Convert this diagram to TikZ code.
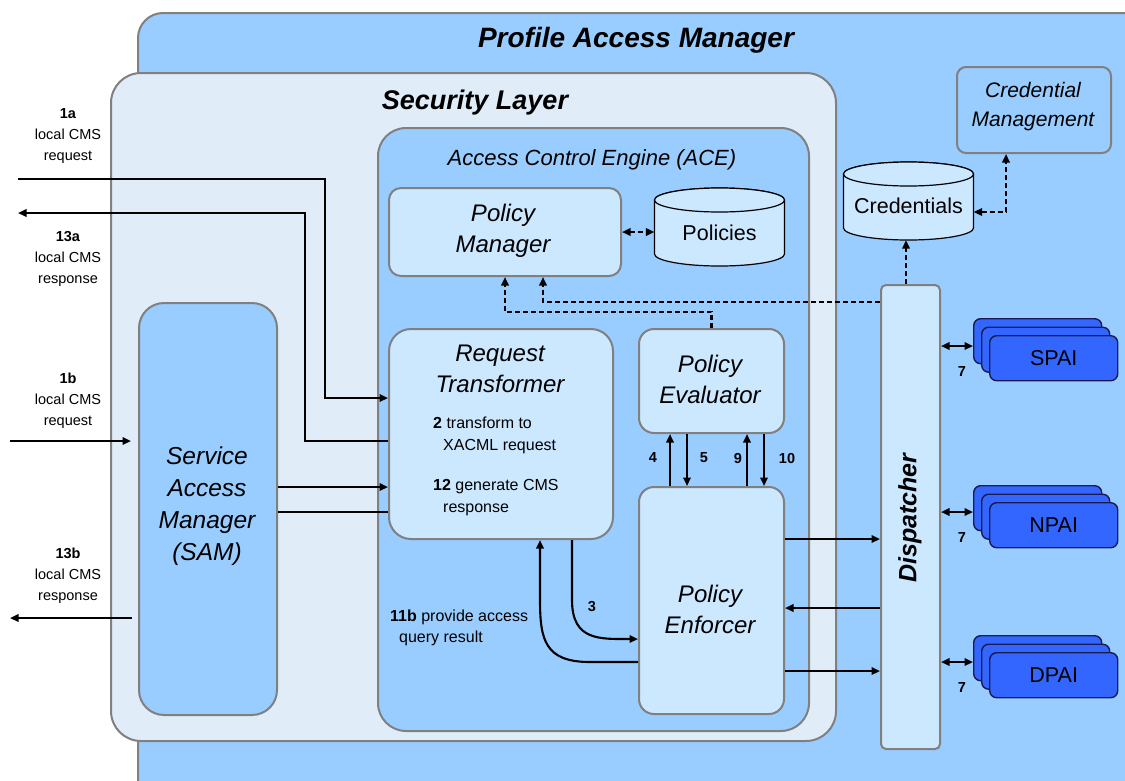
\documentclass[tikz,border=0pt]{standalone}
\usepackage{fontspec}
\setmainfont{Liberation Sans}
\usetikzlibrary{arrows.meta}
\definecolor{pamblue}{HTML}{99CCFF}
\definecolor{lightbox}{HTML}{CCE8FF}
\definecolor{slfill}{HTML}{E0EDF8}
\definecolor{bgray}{HTML}{808080}
\definecolor{paiblue}{HTML}{3366FF}
\definecolor{paiedge}{HTML}{1A1A50}
\newcommand\drawcyl[5]{%
  \filldraw[cylst] ({#1-#4},{#2+#5}) -- ({#1-#4},{#3-#5})
    arc[start angle=180,end angle=360,x radius=#4pt,y radius=#5pt]
    -- ({#1+#4},{#2+#5})
    arc[start angle=0,end angle=180,x radius=#4pt,y radius=#5pt] -- cycle;
  \draw[cylst] (#1,{#2+#5}) ellipse[x radius=#4pt,y radius=#5pt];}
\begin{document}
\begin{tikzpicture}[x=1pt,y=-1pt,
  frame/.style={draw=bgray, line width=2pt, inner sep=0pt, anchor=north west},
  cylst/.style={draw=black, line width=1.2pt, fill=lightbox},
  ghost/.style={inner sep=0pt, minimum width=#1},
  pai/.style={draw=paiedge, line width=1.4pt, fill=paiblue, rounded corners=7pt, anchor=north west, minimum width=128pt, minimum height=45pt, inner sep=0pt},
  conn/.style={line width=2.1pt, -{Triangle[length=8.5pt,width=7.5pt]}},
  dconn/.style={line width=2.1pt, dash pattern=on 5pt off 3pt, -{Triangle[length=8.5pt,width=7.5pt]}},
  dboth/.style={line width=2.1pt, dash pattern=on 5pt off 3pt, {Triangle[length=8.5pt,width=7.5pt]}-{Triangle[length=8.5pt,width=7.5pt]}},
  both/.style={line width=2.1pt, {Triangle[length=8.5pt,width=7.5pt]}-{Triangle[length=8.5pt,width=7.5pt]}},
  plain/.style={line width=2.1pt},
  bigti/.style={font=\fontsize{24}{31}\selectfont\itshape, align=center, inner sep=0pt},
  small/.style={font=\fontsize{14.5}{21}\selectfont, align=center, inner sep=0pt},
  mid/.style={font=\fontsize{16}{21}\selectfont, inner sep=0pt, anchor=west, text height=11.5pt, text depth=0pt},
  num/.style={font=\fontsize{14.5}{18}\selectfont\bfseries, inner sep=0pt}
]
\useasboundingbox (0,0) rectangle (1125,780);
\fill[white] (0,0) rectangle (1125,780);
\clip (0,0) rectangle (1125,780);

% containers
\node[frame, fill=pamblue, rounded corners=25pt, minimum width=1040pt, minimum height=800pt] (pam) at (137,12) {};
\node[font=\fontsize{28}{34}\selectfont\bfseries\itshape, inner sep=0pt] (pamt) at (636,40) {Profile Access Manager};
\node[frame, fill=slfill, rounded corners=30pt, minimum width=725pt, minimum height=668pt] (sl) at (110,72) {};
\node[font=\fontsize{27}{32}\selectfont\bfseries\itshape, inner sep=0pt] (slt) at (475,103) {Security Layer};
\node[frame, fill=pamblue, rounded corners=28pt, minimum width=431pt, minimum height=603pt] (ace) at (377,127) {};
\node[font=\fontsize{22}{26}\selectfont\itshape, inner sep=0pt] (acet) at (592,160) {Access Control Engine (ACE)};

% ACE components
\node[frame, fill=lightbox, rounded corners=12pt, minimum width=232pt, minimum height=88pt] (pm) at (388,187) {};
\node[bigti] (pmt) at (503,231) {Policy\\Manager};
\drawcyl{719.5}{188}{266}{65}{12}
\node[ghost=130pt, minimum height=78pt] (pol) at (719.5,227) {};
\node[font=\fontsize{21.5}{26}\selectfont, inner sep=0pt] (polt) at (719.5,233) {Policies};

\node[frame, fill=lightbox, rounded corners=22pt, minimum width=224pt, minimum height=210pt] (rt) at (388,328) {};
\node[bigti] (rtt) at (500,368.5) {Request\\Transformer};
\node[mid] (rt2a) at (433,423) {\textbf{2} transform to};
\node[mid] (rt2b) at (443,445) {XACML request};
\node[mid] (rt12a) at (433,485) {\textbf{12} generate CMS};
\node[mid] (rt12b) at (443,506.5) {response};

\node[frame, fill=lightbox, rounded corners=15pt, minimum width=145pt, minimum height=104pt] (pe) at (638,328) {};
\node[bigti] (pet) at (710,379.5) {Policy\\Evaluator};
\node[frame, fill=lightbox, rounded corners=15pt, minimum width=145pt, minimum height=227pt] (penf) at (638,486) {};
\node[bigti] (penft) at (710,609.5) {Policy\\Enforcer};

% SAM
\node[frame, fill=pamblue, rounded corners=25pt, minimum width=138pt, minimum height=412pt] (sam) at (138,302) {};
\node[bigti, font=\fontsize{24.5}{32}\selectfont\itshape] (samt) at (207,506) {Service\\Access\\Manager\\(SAM)};

% Dispatcher
\node[frame, fill=lightbox, rounded corners=5pt, minimum width=59pt, minimum height=464pt] (disp) at (880,284) {};
\node[rotate=90, font=\fontsize{25}{30}\selectfont\bfseries\itshape, inner sep=0pt] (dispt) at (910,518) {Dispatcher};

% Credentials
\drawcyl{908.5}{162}{240}{65}{12}
\node[ghost=130pt, minimum height=78pt] (cred) at (908.5,201) {};
\node[font=\fontsize{21.5}{26}\selectfont, inner sep=0pt] (credt) at (908.5,206) {Credentials};
\node[frame, fill=pamblue, rounded corners=9pt, minimum width=154pt, minimum height=86pt] (cm) at (956,66) {};
\node[font=\fontsize{21}{29}\selectfont\itshape, align=center, inner sep=0pt] (cmt) at (1033,107) {Credential\\Management};

% PAIs
\node[pai] (spai3) at (973,318) {};
\node[pai] (spai2) at (981,326.5) {};
\node[pai, font=\fontsize{21.5}{26}\selectfont] (spai1) at (989,335) {SPAI};
\node[pai] (npai3) at (973,485) {};
\node[pai] (npai2) at (981,493.5) {};
\node[pai, font=\fontsize{21.5}{26}\selectfont] (npai1) at (989,502) {NPAI};
\node[pai] (dpai3) at (973,635) {};
\node[pai] (dpai2) at (981,643.5) {};
\node[pai, font=\fontsize{21.5}{26}\selectfont] (dpai1) at (989,652) {DPAI};

% left labels
\node[small] (l1a) at (68,136) {\textbf{1a}\\local CMS\\request};
\node[small] (l13a) at (68,259) {\textbf{13a}\\local CMS\\response};
\node[small] (l1b) at (68,400.5) {\textbf{1b}\\local CMS\\request};
\node[small] (l13b) at (68,576) {\textbf{13b}\\local CMS\\response};

% external connectors
\coordinate (in1a) at (18,179);
\coordinate (a1) at (325,398);
\draw[conn] (in1a) -| (a1) -- (a1 -| rt.west);
\coordinate (out13a) at (18,213);
\coordinate (a2) at (305,441);
\draw[conn] (a2 -| rt.west) -- (a2) |- (out13a);
\coordinate (in1b) at (10,441);
\draw[conn, shorten >=7pt] (in1b) -- (in1b -| sam.west);
\coordinate (out13b) at (10,618);
\draw[conn, shorten <=6pt] (out13b -| sam.west) -- (out13b);
\coordinate (s1) at (0,487);
\coordinate (s2) at (0,512);
\draw[conn] (s1 -| sam.east) -- (s1 -| rt.west);
\draw[plain] (s2 -| sam.east) -- (s2 -| rt.west);

% RT <-> PEnf
\coordinate (c3) at (572,600);
\coordinate (c3e) at (0,639);
\draw[conn] (c3 |- rt.south) -- (c3) .. controls (572,641) and (600,639) .. (c3e -| penf.west);
\node[num] (n3) at (592,607) {3};
\coordinate (c11) at (590,662);
\coordinate (c11e) at (540,600);
\draw[conn] (c11 -| penf.west) -- (c11) .. controls (545,662) and (540,640) .. (c11e) -- (c11e |- rt.south);
\node[font=\fontsize{16}{21}\selectfont, align=left, inner sep=0pt, anchor=west] (l11b) at (390,627.5) {\textbf{11b} provide access\\\hspace*{9pt}query result};

% PE <-> PEnf
\coordinate (x4) at (670,0);
\coordinate (x5) at (687,0);
\coordinate (x9) at (747,0);
\coordinate (x10) at (764,0);
\draw[conn] (x4 |- penf.north) -- (x4 |- pe.south);
\draw[conn] (x5 |- pe.south) -- (x5 |- penf.north);
\draw[conn] (x9 |- penf.north) -- (x9 |- pe.south);
\draw[conn] (x10 |- pe.south) -- (x10 |- penf.north);
\node[num] (n4) at (653,458) {4};
\node[num] (n5) at (704,458) {5};
\node[num] (n9) at (738,458) {9};
\node[num] (n10) at (787,458) {10};

% PEnf <-> Dispatcher
\coordinate (y1) at (0,539);
\coordinate (y2) at (0,608);
\coordinate (y3) at (0,671);
\draw[conn] (y1 -| penf.east) -- (y1 -| disp.west);
\draw[conn] (y2 -| disp.west) -- (y2 -| penf.east);
\draw[conn] (y3 -| penf.east) -- (y3 -| disp.west);

% Dispatcher <-> PAIs
\coordinate (p1) at (0,346);
\coordinate (p2) at (0,512);
\coordinate (p3) at (0,662);
\draw[both] (p1 -| disp.east) -- (p1 -| spai3.west);
\draw[both] (p2 -| disp.east) -- (p2 -| npai3.west);
\draw[both] (p3 -| disp.east) -- (p3 -| dpai3.west);
\node[num] (n7a) at (962,372) {7};
\node[num] (n7b) at (962,538) {7};
\node[num] (n7c) at (962,688) {7};

% dashed connectors
\draw[dboth] (pm.east) -- (pm.east -| pol.west);
\coordinate (d1) at (505,312);
\draw[dconn] (pe.north) |- (d1) -- (d1 |- pm.south);
\coordinate (d2) at (543,302);
\draw[dconn] (d2 -| disp.west) -- (d2) -- (d2 |- pm.south);
\coordinate (d3) at (906,0);
\draw[dconn] (d3 |- disp.north) -- (d3 |- cred.south);
\coordinate (d4) at (1006,212);
\draw[dboth] (d4 -| cred.east) -- (d4) -- (d4 |- cm.south);
\end{tikzpicture}
\end{document}
